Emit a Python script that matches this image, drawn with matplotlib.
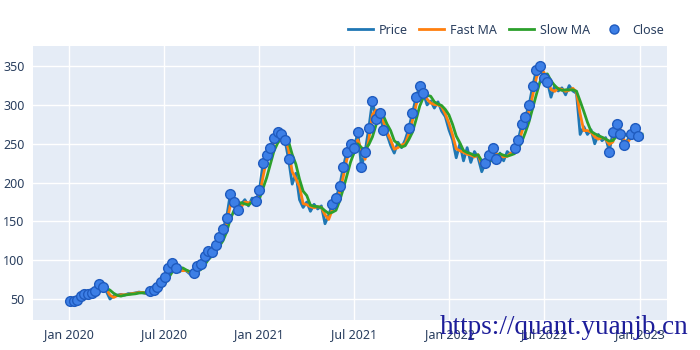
import numpy as np
import pandas as pd
import matplotlib
matplotlib.use("Agg")
import matplotlib.pyplot as plt
import matplotlib.dates as mdates
from matplotlib.lines import Line2D

# weekly closes, starting 2020-01-03
start_date = "2020-01-03"
price = [47, 48, 49, 54, 57, 56, 58, 60, 70, 66, 60, 50, 54, 55, 56, 55, 57, 57, 58, 59,
         58, 57, 60, 62, 66, 72, 78, 90, 97, 90, 85, 88, 86, 82, 84, 92, 95, 105, 112, 110,
         120, 130, 140, 155, 185, 175, 165, 172, 178, 170, 180, 176, 190, 225, 235, 245, 258, 265, 262, 255,
         230, 198, 212, 178, 168, 175, 163, 172, 166, 170, 147, 158, 172, 180, 195, 220, 240, 250, 245, 265,
         220, 240, 270, 305, 282, 290, 268, 262, 248, 238, 252, 245, 255, 270, 290, 310, 325, 315, 300, 305,
         296, 304, 292, 285, 268, 255, 232, 250, 228, 245, 226, 240, 232, 214, 225, 235, 245, 230, 238, 228,
         240, 236, 245, 255, 275, 285, 300, 325, 345, 350, 335, 330, 310, 325, 318, 322, 313, 325, 318, 315, 262,
         272, 262, 268, 250, 262, 254, 258, 240, 265, 276, 262, 248, 255, 262, 270, 260, 257]

# weeks (index ranges, inclusive) where the Close markers are shown
close_ranges = [(0, 9), (22, 29), (34, 46), (51, 60), (72, 81), (82, 86),
                (93, 97), (114, 117), (122, 131), (148, 152), (154, 156)]

fast_window = 2
slow_window = 4

dates = pd.date_range(start_date, periods=len(price), freq="7D")
df = pd.DataFrame({"price": price}, index=dates)
df["fast"] = df["price"].rolling(fast_window, min_periods=1).mean()
df["slow"] = df["price"].rolling(slow_window, min_periods=1).mean()

mask = np.zeros(len(df), dtype=bool)
for a, b in close_ranges:
    mask[a:b + 1] = True
closes = df[mask]

font = "Noto Sans"
txt_col = "#2a3f5f"

fig = plt.figure(figsize=(7, 3.5), dpi=100)
ax = fig.add_axes([0.047, 0.0857, 0.906, 0.783])
ax.set_facecolor("#E5ECF6")
for s in ax.spines.values():
    s.set_visible(False)
ax.grid(True, color="white", linewidth=1)
ax.set_axisbelow(True)

ax.plot(df.index, df["price"], color="#1f77b4", lw=2, zorder=3)
ax.plot(df.index, df["fast"], color="#ff7f0e", lw=2, zorder=4)
ax.plot(df.index, df["slow"], color="#2ca02c", lw=2, zorder=5)
ax.plot(closes.index, closes["price"], "o", ls="none", ms=7,
        mfc="#3d7fe6", mec="#1f5bbf", mew=1, zorder=6)

ax.set_xlim(pd.Timestamp("2019-10-24"), pd.Timestamp("2023-02-23"))
ax.set_ylim(23, 376)
ax.set_yticks([50, 100, 150, 200, 250, 300, 350])
ax.xaxis.set_major_locator(mdates.MonthLocator(bymonth=[1, 7]))
ax.xaxis.set_major_formatter(mdates.DateFormatter("%b %Y"))
ax.tick_params(length=0, labelsize=9, labelcolor=txt_col, pad=6)
for lab in ax.get_xticklabels() + ax.get_yticklabels():
    lab.set_fontfamily(font)

handles = [Line2D([], [], color="#1f77b4", lw=2),
           Line2D([], [], color="#ff7f0e", lw=2),
           Line2D([], [], color="#2ca02c", lw=2),
           Line2D([], [], ls="none", marker="o", ms=6.5, mfc="#3d7fe6", mec="#1f5bbf")]
fig.legend(handles, ["Price", "Fast MA", "Slow MA", "Close"], ncol=4, frameon=False,
           loc="upper right", bbox_to_anchor=(0.965, 0.965), handlelength=2.0,
           columnspacing=0.9, handletextpad=0.5,
           prop={"family": font, "size": 9}, labelcolor=txt_col)

fig.text(0.983, 0.065, "https://quant.yuanjb.cn", ha="right", va="center",
         fontsize=19.5, color="#1e1e9a", family="Liberation Serif")

fig.savefig("out.png", dpi=100)
